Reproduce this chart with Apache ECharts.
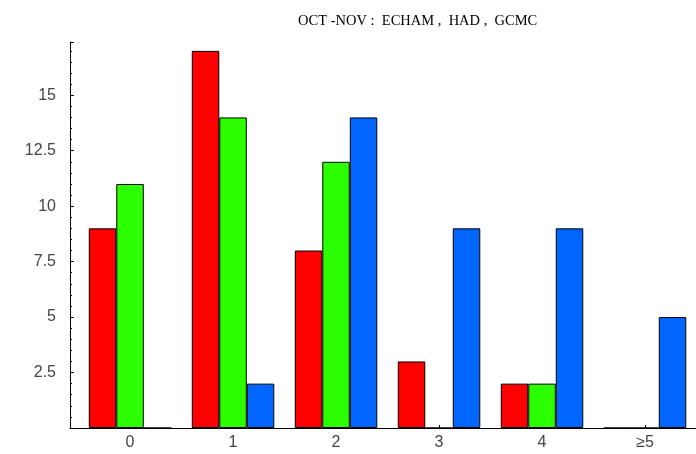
<!DOCTYPE html>
<html>
<head>
<meta charset="utf-8">
<script src="https://cdn.jsdelivr.net/npm/echarts@6/dist/echarts.min.js"></script>
<style>html,body{margin:0;padding:0;background:#fff}#c{width:696px;height:454px}</style>
</head>
<body>
<div id="c"></div>
<script>
var titleText = 'OCT -NOV :  ECHAM ,  HAD ,  GCMC';
var categories = ['0', '1', '2', '3', '4', '\u22655'];
var categoryPos = [0, 1, 2, 3, 4, 5];
var echam = [9, 17, 8, 3, 2, 0];
var had = [11, 14, 12, 0, 2, 0];
var gcmc = [0, 2, 14, 9, 9, 5];
var yTicks = [2.5, 5, 7.5, 10, 12.5, 15];

function pts(vals) { return vals.map(function (v, i) { return [categoryPos[i], v]; }); }

var chart = echarts.init(document.getElementById('c'), null, {renderer: 'canvas'});
var barStyle = function (c) { return {color: c, borderColor: '#000', borderWidth: 1}; };
chart.setOption({
  animation: false,
  backgroundColor: '#fff',
  title: {
    text: titleText, left: 293, top: 9,
    textStyle: {fontFamily: 'Liberation Serif', fontSize: 14.5, fontWeight: 'normal', color: '#000'}
  },
  grid: {left: 70, right: 0, top: 42, bottom: 26, containLabel: false},
  xAxis: {
    type: 'value', min: -0.583, max: 5.495,
    splitLine: {show: false},
    axisLine: {show: true, onZero: false, lineStyle: {color: '#000', width: 1}},
    axisTick: {show: true, inside: true, length: 3, customValues: categoryPos, lineStyle: {color: '#000'}},
    axisLabel: {
      customValues: categoryPos,
      formatter: function (v) { return categories[Math.round(v)]; },
      fontFamily: 'Liberation Sans', fontSize: 16, color: '#444', margin: 7
    }
  },
  yAxis: {
    type: 'value', min: 0, max: 17.4, interval: 2.5,
    splitLine: {show: false},
    axisLine: {show: true, onZero: false, lineStyle: {color: '#000', width: 1}},
    axisTick: {show: true, inside: true, length: 4, lineStyle: {color: '#000'}},
    minorTick: {show: true, splitNumber: 5, length: 2, lineStyle: {color: '#000'}},
    axisLabel: {
      customValues: yTicks,
      fontFamily: 'Liberation Sans', fontSize: 16, color: '#444', margin: 14
    }
  },
  series: [
    {type: 'bar', name: 'ECHAM', data: pts(echam), barWidth: 27.5, barGap: '0%', itemStyle: barStyle('#ff0000')},
    {type: 'bar', name: 'HAD', data: pts(had), barWidth: 27.5, barGap: '0%', itemStyle: barStyle('#2bff00')},
    {type: 'bar', name: 'GCMC', data: pts(gcmc), barWidth: 27.5, barGap: '0%', itemStyle: barStyle('#0066ff')}
  ]
});
</script>
</body>
</html>
